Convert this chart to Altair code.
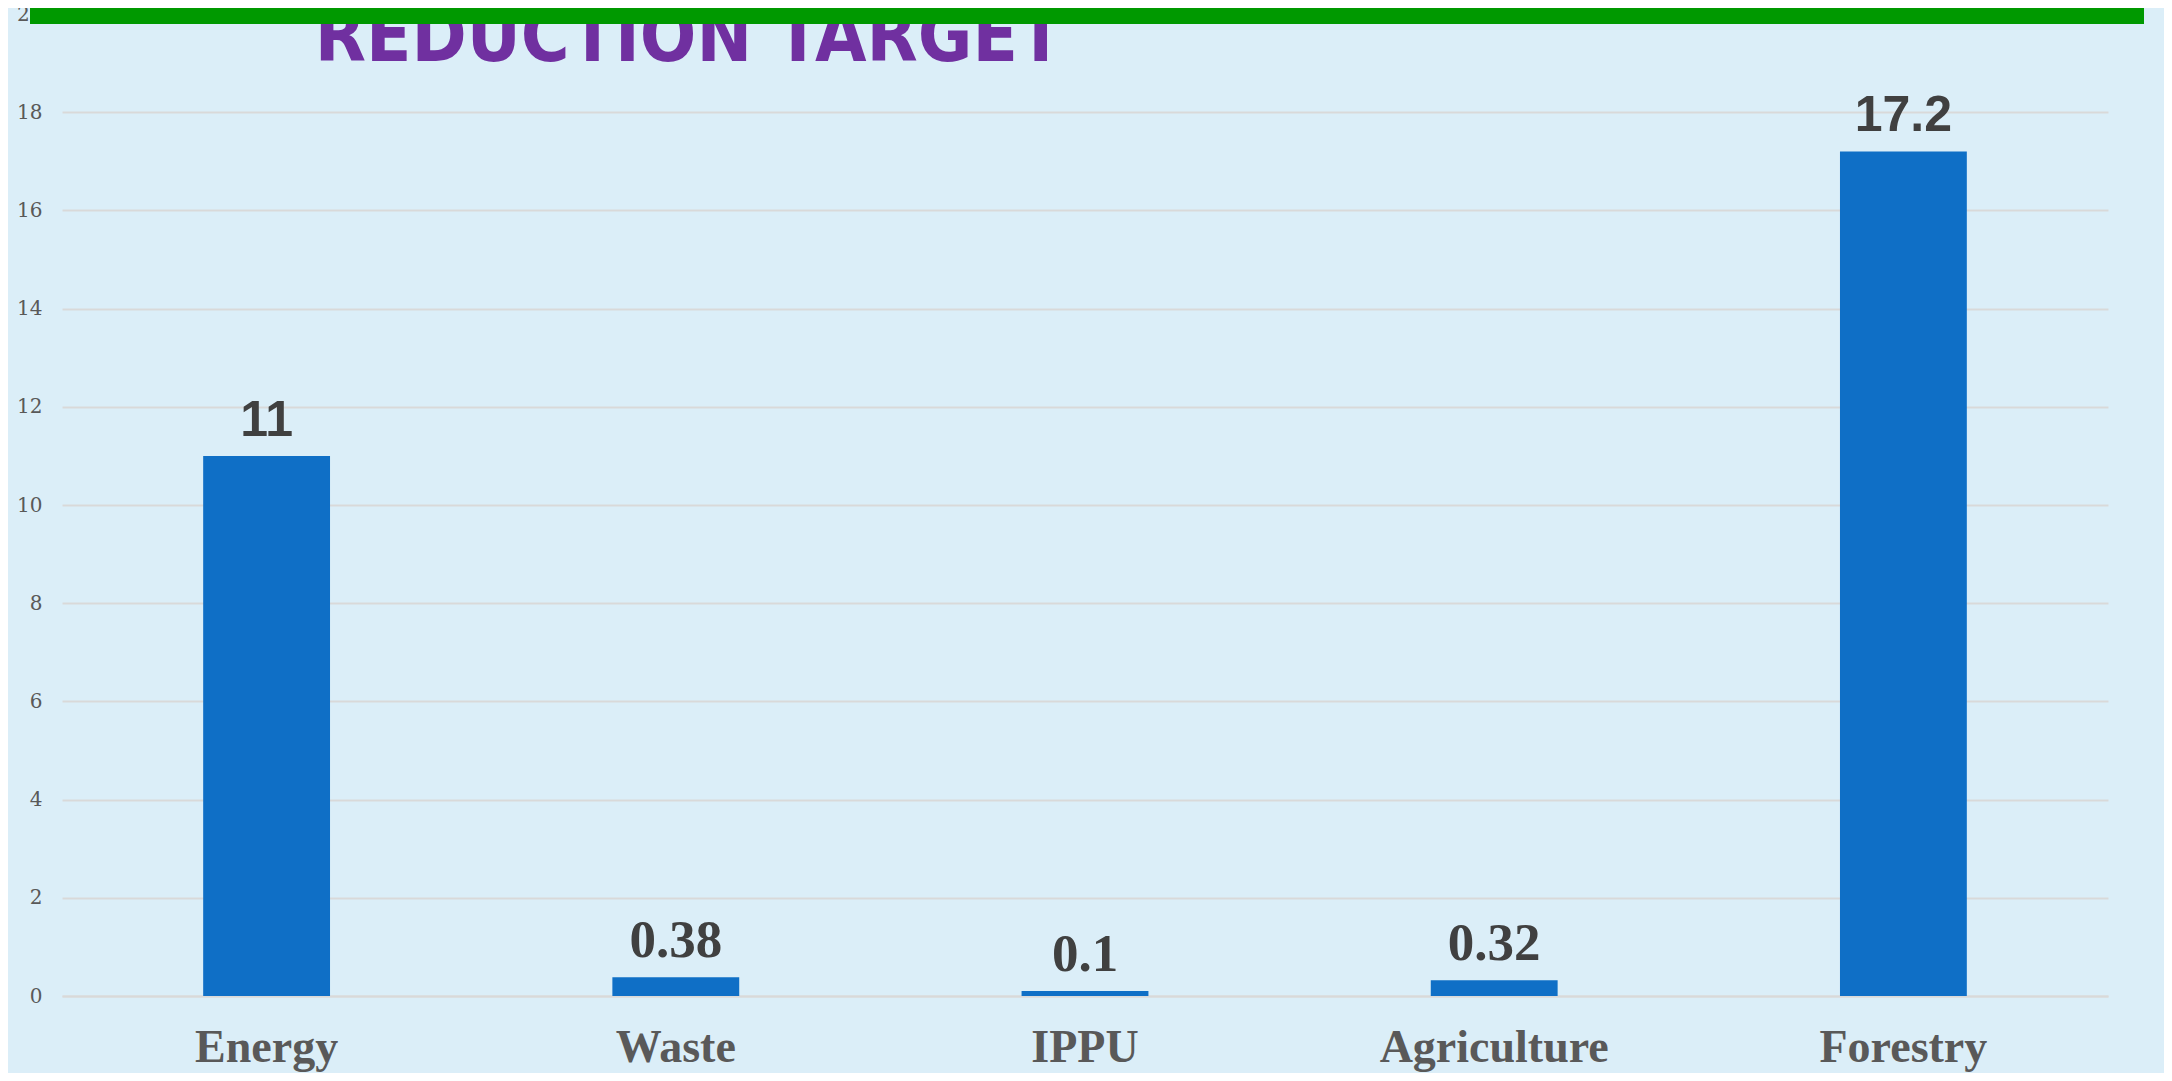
import altair as alt
import pandas as pd

categories = ["Energy", "Waste", "IPPU", "Agriculture", "Forestry"]
values = [11, 0.38, 0.1, 0.32, 17.2]
labels = ["11", "0.38", "0.1", "0.32", "17.2"]
sans_label_categories = ["Energy", "Forestry"]
y_ticks = list(range(0, 21, 2))
target_line = [20]
title_text = ["REDUCTION TARGET"]

df = pd.DataFrame({"category": categories, "value": values, "label": labels})

x = alt.X(
    "category:N",
    sort=categories,
    scale=alt.Scale(paddingInner=0.69, paddingOuter=0.345),
    axis=alt.Axis(
        title=None, labelAngle=0, labelFont="Liberation Serif", labelFontWeight="bold",
        labelFontSize=46, labelColor="#595959", labelBaseline="alphabetic",
        labelPadding=65, labelLimit=0, ticks=False, domainColor="#D9D9D9", domainWidth=2,
    ),
)
y = alt.Y(
    "value:Q",
    scale=alt.Scale(domain=[0, 20], nice=False),
    axis=alt.Axis(
        title=None, values=y_ticks, labelFont="DejaVu Serif", labelFontSize=20,
        labelColor="#595959", labelPadding=20, ticks=False, domain=False,
        gridColor="#D9D9D9", gridWidth=2,
    ),
)

base = alt.Chart(df)
bars = base.mark_bar(color="#0F6FC6").encode(x=x, y=y)

sans_labels = base.transform_filter(
    alt.FieldOneOfPredicate(field="category", oneOf=sans_label_categories)
).mark_text(
    font="Liberation Sans", fontWeight="bold", fontSize=50, color="#404040",
    baseline="alphabetic", dy=-20,
).encode(x=x, y=y, text="label:N")

serif_labels = base.transform_filter(
    ~alt.FieldOneOfPredicate(field="category", oneOf=sans_label_categories)
).mark_text(
    font="Liberation Serif", fontWeight="bold", fontSize=53, color="#404040",
    baseline="alphabetic", dy=-20,
).encode(x=x, y=y, text="label:N")

title = alt.Chart(pd.DataFrame({"title": title_text})).mark_text(
    font="DejaVu Sans Condensed, sans-serif",
    fontWeight="bold", fontSize=74, color="#7030A0",
    baseline="alphabetic", align="center",
).encode(x=alt.value(627), y=alt.value(47), text="title:N")

rule = alt.Chart(pd.DataFrame({"target": target_line})).mark_rule(
    color="#009900", strokeWidth=20
).encode(y=alt.Y("target:Q"), x=alt.value(-32), x2=alt.value(2082))

chart = alt.layer(bars, sans_labels, serif_labels, title, rule).properties(
    width=2046,
    height=982,
    padding={"left": 54, "top": 6, "right": 56, "bottom": 77},
    autosize=alt.AutoSizeParams(type="none"),
    background="#DBEEF8",
).configure_view(stroke=None)

chart.save("out.html", embed_options={"renderer": "svg", "actions": False})
